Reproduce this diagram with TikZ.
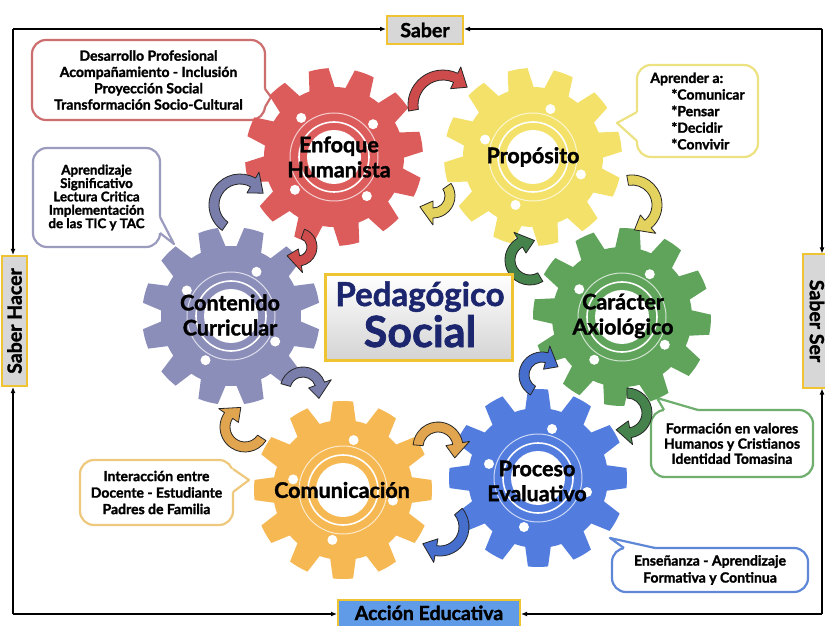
\documentclass[tikz,border=0pt]{standalone}
\usepackage{fontspec}
\setmainfont{Lato}[BoldFeatures={FakeBold=1.6}]
\usetikzlibrary{arrows.meta}
\definecolor{gred}{RGB}{220,92,92}
\definecolor{gyel}{RGB}{243,225,105}
\definecolor{ggrn}{RGB}{96,164,92}
\definecolor{gblu}{RGB}{82,125,222}
\definecolor{gorg}{RGB}{246,184,82}
\definecolor{gpur}{RGB}{140,142,186}
\definecolor{ared}{RGB}{205,75,75}
\definecolor{ayel}{RGB}{228,210,95}
\definecolor{agrn}{RGB}{70,130,75}
\definecolor{ablu}{RGB}{70,110,205}
\definecolor{aorg}{RGB}{225,165,80}
\definecolor{apur}{RGB}{120,125,170}
\definecolor{bred}{RGB}{205,110,110}
\definecolor{bpur}{RGB}{155,155,190}
\definecolor{byel}{RGB}{236,226,130}
\definecolor{bgrn}{RGB}{110,175,110}
\definecolor{bblu}{RGB}{95,135,215}
\definecolor{borg}{RGB}{238,200,125}
\definecolor{lgray}{RGB}{215,215,215}
\definecolor{lyel}{RGB}{240,195,50}
\definecolor{lblu}{RGB}{95,155,230}
\definecolor{navy}{RGB}{28,38,110}
\newcommand\drawgear[5]{%
 \begin{scope}[shift={(#1,#2)}]
  \fill[#3] ({#4-15}:70) \foreach \k in {0,...,11}{
     arc[start angle={#4+30*\k-15}, end angle={#4+30*\k-10.5}, radius=70]
     -- ({#4+30*\k-6.5}:89)
     arc[start angle={#4+30*\k-6.5}, end angle={#4+30*\k+6.5}, radius=89]
     -- ({#4+30*\k+10.5}:70)
     arc[start angle={#4+30*\k+10.5}, end angle={#4+30*\k+15}, radius=70]
  } -- cycle;
  \fill[white] (0,0) circle[radius=27];
  \draw[white, line width=1.6] (0,0) circle[radius=35];
  \draw[white, line width=1, opacity=.7] (0,0) circle[radius=44];
  \foreach \k in {0,1,2,3} \fill[white] ({#5+90*\k}:51) circle[radius=5];
 \end{scope}}
\newcommand\carrow[6]{%
 \begin{scope}[shift={(#1,#2)}]
  \pgfmathsetmacro\sgn{ifthenelse(#5>#4,1,-1)}
  \pgfmathsetmacro\tipang{#5+\sgn*15/#3*57.3}
  \filldraw[fill=#6, draw=black!85, line width=0.8, line join=round]
   (#4:{#3+5}) arc[start angle=#4, end angle=#5, radius={#3+5}]
   -- (#5:{#3+12}) -- (\tipang:#3) -- (#5:{#3-12}) -- (#5:{#3-5})
   arc[start angle=#5, end angle=#4, radius={#3-5}] -- cycle;
 \end{scope}}
\newcommand\calltail[6]{%
  \fill[white] (#2) -- (#3) -- (#5) -- (#6) -- (#4) -- cycle;
  \draw[#1, line width=2.2, line join=round] (#3) -- (#2) -- (#4);}
\begin{document}
\begin{tikzpicture}[x=1pt,y=1pt,
  gtext/.style={font=\fontsize{21.5}{25}\selectfont\bfseries, align=center, text=black},
  bubble/.style={draw=#1, line width=2.2, fill=white, rounded corners=14, inner sep=0, align=center, font=\fontsize{14}{16.3}\selectfont\bfseries},
  lab/.style={draw=lyel, line width=2, fill=lgray, inner sep=0, font=\fontsize{19.5}{22}\selectfont\bfseries},
  frameline/.style={line width=1.6, -{Latex[length=6pt,width=5pt]}}]
\useasboundingbox (0,0) rectangle (825,625);
\clip (0,0) rectangle (825,625);
\fill[white] (0,0) rectangle (825,625);
% frame
\coordinate (tl) at (13,596);
\coordinate (tr) at (822,596);
\coordinate (bl) at (13,11);
\coordinate (br) at (822,11);
\node[lab, minimum width=76, minimum height=28] (saber) at (425,595) {Saber};
\node[lab, rotate=90, minimum width=130, minimum height=25] (hacer) at (14.5,304) {Saber Hacer};
\node[lab, rotate=-90, minimum width=133, minimum height=28] (ser) at (817,304) {Saber Ser};
\node[lab, fill=lblu, minimum width=182, minimum height=36] (accion) at (429,7) {};
\node[anchor=base, font=\fontsize{19.5}{22}\selectfont\bfseries] (acct) at (429,5) {Acción Educativa};
\draw[frameline] (tl) -- (saber.west |- tl);
\draw[frameline] (tr) -- (saber.east |- tr);
\draw[frameline] (bl) -- (accion.west |- bl);
\draw[frameline] (br) -- (accion.east |- br);
\draw[frameline] (tl) -- (tl |- hacer.east);
\draw[frameline] (bl) -- (bl |- hacer.west);
\draw[frameline] (tr) -- (tr |- ser.west);
\draw[frameline] (br) -- (br |- ser.east);
% callouts
\node[bubble=bred, minimum width=233, minimum height=80] (c1) at (148.5,545)
  {Desarrollo Profesional\\Acompañamiento - Inclusión\\Proyección Social\\Transformación Socio-Cultural};
\coordinate (t1) at (271,528);
\calltail{bred}{t1}{265,536}{265,518}{261,536}{261,518}
\node[bubble=bpur, minimum width=127, minimum height=99, font=\fontsize{13.3}{13.4}\selectfont\bfseries] (c2) at (96.5,427.5)
  {Aprendizaje\\Significativo\\Lectura Critica\\Implementación\\de las TIC y TAC};
\coordinate (t2) at (174,381);
\calltail{bpur}{t2}{160,408}{160,392}{156,408}{156,392}
\node[bubble=byel, minimum width=121, minimum height=92, align=left, font=\fontsize{14}{16.6}\selectfont\bfseries] (c3) at (697.5,514)
  {Aprender a:\\\hspace*{21pt}*Comunicar\\\hspace*{21pt}*Pensar\\\hspace*{21pt}*Decidir\\\hspace*{21pt}*Convivir};
\coordinate (t3) at (617,502);
\calltail{byel}{t3}{637,513}{637,484}{641,513}{641,484}
\node[bubble=bgrn, minimum width=162, minimum height=67, font=\fontsize{14}{15.2}\selectfont\bfseries] (c4) at (732,181.5)
  {Formación en valores\\Humanos y Cristianos\\Identidad Tomasina};
\coordinate (t4) at (657,227);
\calltail{bgrn}{t4}{664,215}{698,215}{664,211}{698,211}
\node[bubble=bblu, minimum width=196, minimum height=44, font=\fontsize{14}{17}\selectfont\bfseries] (c5) at (710,55)
  {Enseñanza - Aprendizaje\\Formativa y Continua};
\coordinate (t5) at (610,87);
\calltail{bblu}{t5}{624,77}{655,77}{624,73}{655,73}
\node[bubble=borg, minimum width=153, minimum height=65, font=\fontsize{14}{16.5}\selectfont\bfseries] (c6) at (156.5,132.5)
  {Interacción entre\\Docente - Estudiante\\Padres de Familia};
\coordinate (t6) at (249,145);
\calltail{borg}{t6}{233,156}{233,133}{229,156}{229,133}
% gears
\drawgear{334}{468}{gred}{10}{40}
\drawgear{533}{468}{gyel}{10}{70}
\drawgear{622}{308}{ggrn}{25}{57}
\drawgear{538}{147}{gblu}{0}{74}
\drawgear{343}{135}{gorg}{0}{78}
\drawgear{231}{309}{gpur}{15}{60}
\node[gtext] (eh) at (339,468) {Enfoque\\Humanista};
\node[gtext] (pr) at (533,468) {Propósito};
\node[gtext] (ca) at (623,309) {Carácter\\Axiológico};
\node[gtext] (pe) at (537,144) {Proceso\\Evaluativo};
\node[gtext] (co) at (342,135) {Comunicación};
\node[gtext] (cc) at (230,310) {Contenido\\Curricular};
% curved arrows
\carrow{443}{520}{30}{190}{65}{ared}
\carrow{298}{378}{14}{70}{-80}{ared}
\carrow{433}{429}{17}{35}{-90}{ayel}
\carrow{632}{420}{25}{100}{-50}{ayel}
\carrow{530}{365}{20}{-59}{-240}{agrn}
\carrow{627}{212}{20}{90}{-80}{agrn}
\carrow{542}{250}{18}{240}{75}{ablu}
\carrow{440}{98}{24}{40}{-100}{ablu}
\carrow{438}{178}{20}{175}{10}{aorg}
\carrow{245}{198}{20}{-33}{-215}{aorg}
\carrow{303}{235}{18}{164}{20}{apur}
\carrow{240}{420}{26}{235}{60}{apur}
% centre box
\node[draw=lyel, line width=3, top color=white, bottom color=black!17, minimum width=187, minimum height=85] (ps) at (418.5,307.5) {};
\node[anchor=base, text=navy, font=\fontsize{33}{36}\selectfont\bfseries] (ped) at (420,319) {Pedagógico};
\node[anchor=base, text=navy, font=\fontsize{43}{46}\selectfont\bfseries] (soc) at (420,278) {Social};
\end{tikzpicture}
\end{document}
